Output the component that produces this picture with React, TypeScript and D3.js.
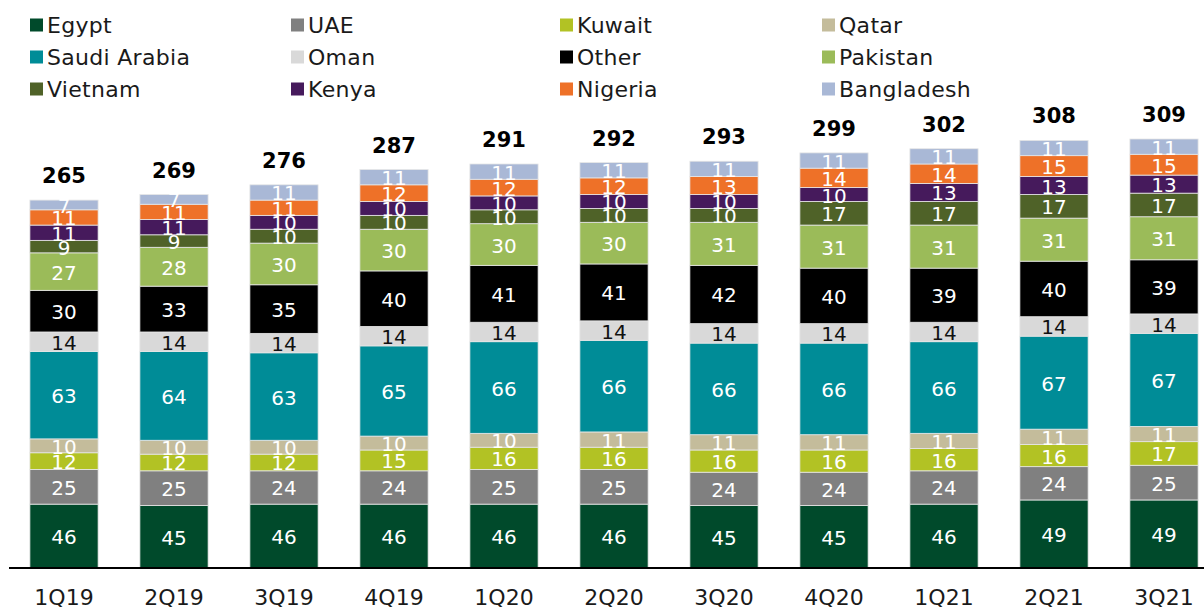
import * as d3 from 'd3';

const quarters = ['1Q19', '2Q19', '3Q19', '4Q19', '1Q20', '2Q20', '3Q20', '4Q20', '1Q21', '2Q21', '3Q21'];
const countries = ['Egypt', 'UAE', 'Kuwait', 'Qatar', 'Saudi Arabia', 'Oman', 'Other', 'Pakistan', 'Vietnam', 'Kenya', 'Nigeria', 'Bangladesh'];
const colors = ['#004a2b', '#808080', '#b2c224', '#c4bc9b', '#008c97', '#d9d9d9', '#000000', '#9bbb59', '#4f6228', '#461a5c', '#ee7128', '#a9b8d6'];

const egypt = [46, 45, 46, 46, 46, 46, 45, 45, 46, 49, 49];
const uae = [25, 25, 24, 24, 25, 25, 24, 24, 24, 24, 25];
const kuwait = [12, 12, 12, 15, 16, 16, 16, 16, 16, 16, 17];
const qatar = [10, 10, 10, 10, 10, 11, 11, 11, 11, 11, 11];
const saudi = [63, 64, 63, 65, 66, 66, 66, 66, 66, 67, 67];
const oman = [14, 14, 14, 14, 14, 14, 14, 14, 14, 14, 14];
const other = [30, 33, 35, 40, 41, 41, 42, 40, 39, 40, 39];
const pakistan = [27, 28, 30, 30, 30, 30, 31, 31, 31, 31, 31];
const vietnam = [9, 9, 10, 10, 10, 10, 10, 17, 17, 17, 17];
const kenya = [11, 11, 10, 10, 10, 10, 10, 10, 13, 13, 13];
const nigeria = [11, 11, 11, 12, 12, 12, 13, 14, 14, 15, 15];
const bangladesh = [7, 7, 11, 11, 11, 11, 11, 11, 11, 11, 11];
const totals = [265, 269, 276, 287, 291, 292, 293, 299, 302, 308, 309];

const series = [egypt, uae, kuwait, qatar, saudi, oman, other, pakistan, vietnam, kenya, nigeria, bangladesh];

const W = 1204, H = 607;
const font = "'DejaVu Sans', sans-serif";

export default function App() {
  const rows = quarters.map((q, i) => {
    const r: Record<string, any> = { q };
    countries.forEach((c, k) => (r[c] = series[k][i]));
    return r;
  });
  const stacked = d3.stack().keys(countries)(rows as any);

  const x = d3.scaleBand().domain(quarters).range([9, 1219]).paddingInner(0.38).paddingOuter(0.19);
  const y = d3.scaleLinear().domain([0, 309]).range([568, 139]);

  return (
    <svg width={W} height={H} style={{ position: 'absolute', left: 0, top: 0, background: '#fff' }} fontFamily={font}>
      {/* legend */}
      {countries.map((c, k) => {
        const col = k % 4, row = Math.floor(k / 4);
        const lx = [30, 291, 560, 822][col];
        const ly = 25 + row * 32;
        return (
          <g key={c} transform={`translate(${lx},${ly})`}>
            <rect x={0} y={-6.5} width={13} height={13} fill={colors[k]} />
            <text x={17} y={0} dominantBaseline="central" fontSize={22} letterSpacing={0.3} fill="#1a1a1a">{c}</text>
          </g>
        );
      })}

      {stacked.map((s, k) => (
        <g key={s.key}>
          {s.map((d, i) => {
            const x0 = x(quarters[i])!;
            const y0 = y(d[1]), y1 = y(d[0]);
            return (
              <g key={i}>
                <rect x={x0} y={y0} width={x.bandwidth()} height={y1 - y0} fill={colors[k]} stroke="#e6e6e6" strokeWidth={0.8} />
                <text x={x0 + x.bandwidth() / 2} y={(y0 + y1) / 2 + 1} textAnchor="middle" dominantBaseline="central"
                  fontSize={20} fill={countries[k] === 'Oman' ? '#111' : '#fff'}>{series[k][i]}</text>
              </g>
            );
          })}
        </g>
      ))}

      {totals.map((t, i) => (
        <text key={i} x={x(quarters[i])! + x.bandwidth() / 2} y={y(t) - 17} textAnchor="middle" fontSize={21} fontWeight="bold" fill="#000">{t}</text>
      ))}

      <line x1={9} x2={W} y1={568} y2={568} stroke="#000" strokeWidth={2} />
      {quarters.map((q) => (
        <text key={q} x={x(q)! + x.bandwidth() / 2} y={605} textAnchor="middle" fontSize={22} fill="#1a1a1a">{q}</text>
      ))}
    </svg>
  );
}
